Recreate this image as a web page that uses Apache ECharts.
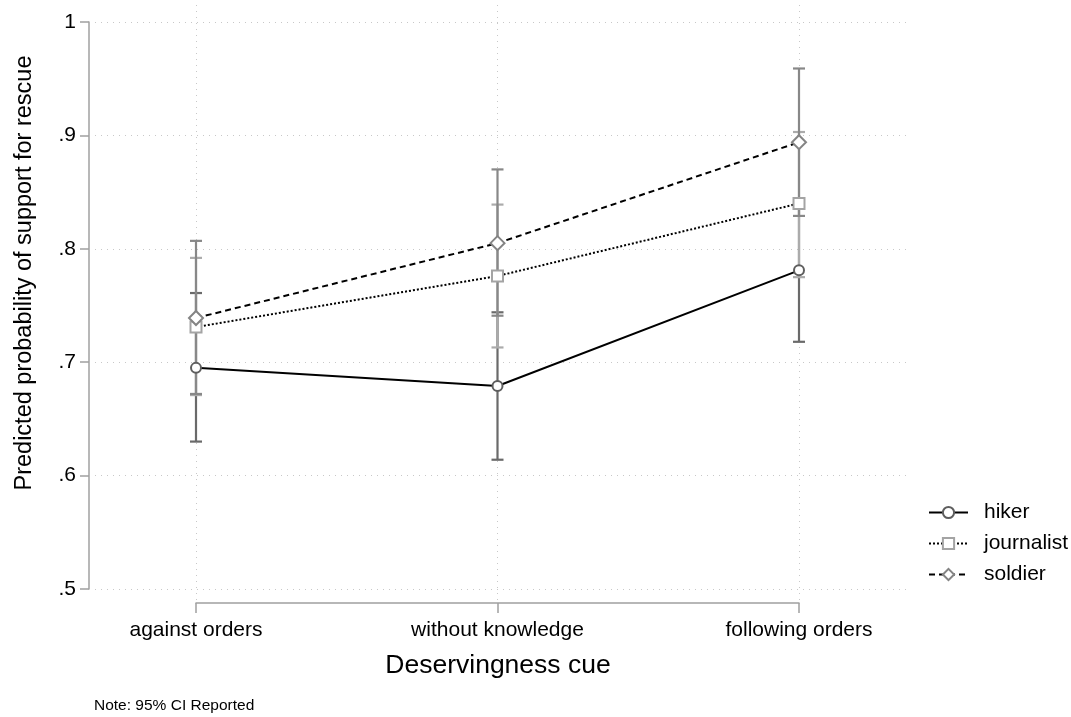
<!DOCTYPE html>
<html>
<head>
<meta charset="utf-8">
<script src="https://cdn.jsdelivr.net/npm/echarts@6/dist/echarts.min.js"></script>
<style>
  html, body { margin: 0; padding: 0; background: #fff; }
  #chart { width: 1071px; height: 717px; }
</style>
</head>
<body>
<div id="chart"></div>
<script>
// data
var categories = ['against orders', 'without knowledge', 'following orders']

var hiker = [0.695, 0.679, 0.781]
var hikerLo = [0.630, 0.614, 0.718]
var hikerHi = [0.761, 0.744, 0.844]

var journalist = [0.731, 0.776, 0.840]
var journalistLo = [0.671, 0.713, 0.775]
var journalistHi = [0.792, 0.839, 0.903]

var soldier = [0.739, 0.805, 0.894]
var soldierLo = [0.672, 0.741, 0.829]
var soldierHi = [0.807, 0.870, 0.959]

var font = 'Liberation Sans, Arial, Helvetica, sans-serif'

function pts(vals) {
  return vals.map(function (v, i) { return [i, v] })
}
function ciData(lo, hi) {
  return lo.map(function (v, i) { return [i, v, hi[i]] })
}

// error bar with caps
function errBar(color) {
  return function (params, api) {
    var x = api.value(0)
    var p1 = api.coord([x, api.value(1)])
    var p2 = api.coord([x, api.value(2)])
    var w = 6
    var st = { stroke: color, lineWidth: 2.2 }
    return {
      type: 'group',
      children: [
        { type: 'line', shape: { x1: p1[0], y1: p1[1], x2: p2[0], y2: p2[1] }, style: st },
        { type: 'line', shape: { x1: p1[0] - w, y1: p1[1], x2: p1[0] + w, y2: p1[1] }, style: st },
        { type: 'line', shape: { x1: p2[0] - w, y1: p2[1], x2: p2[0] + w, y2: p2[1] }, style: st },
      ],
    }
  }
}

var gridLine = { show: true, lineStyle: { color: '#c8c8c8', type: [1, 5], width: 1 } }

var chart = echarts.init(document.getElementById('chart'))
var option = {
  backgroundColor: '#fff',
  animation: false,
  textStyle: { fontFamily: font },
  grid: [
    // data grid
    { left: 196, top: 22, width: 603, height: 567 },
    // horizontal grid lines
    { left: 95, top: 22, width: 812, height: 567 },
    // vertical grid lines
    { left: 196, top: 5, width: 603, height: 595 },
  ],
  xAxis: [
    {
      gridIndex: 0, type: 'value', min: 0, max: 2, interval: 1, offset: 14,
      axisLine: { show: true, onZero: false, lineStyle: { color: '#a0a0a0', width: 1.5 } },
      axisTick: { show: true, length: 10, lineStyle: { color: '#a0a0a0', width: 1.5 } },
      axisLabel: {
        margin: 17, fontSize: 21, color: '#000', fontFamily: font,
        formatter: function (v) { return categories[v] },
      },
      splitLine: { show: false },
    },
    { gridIndex: 1, type: 'value', show: false, min: 0, max: 1 },
    {
      gridIndex: 2, type: 'value', min: 0, max: 2, interval: 1,
      axisLine: { show: false }, axisTick: { show: false }, axisLabel: { show: false },
      splitLine: gridLine,
    },
  ],
  yAxis: [
    {
      gridIndex: 0, type: 'value', min: 0.5, max: 1, interval: 0.1, offset: 107,
      axisLine: { show: true, onZero: false, lineStyle: { color: '#a0a0a0', width: 1.5 } },
      axisTick: { show: true, length: 9, lineStyle: { color: '#a0a0a0', width: 1.5 } },
      axisLabel: {
        margin: 13, fontSize: 21, color: '#000', fontFamily: font,
        formatter: function (v) {
          var r = Math.round(v * 10) / 10
          return r === 1 ? '1' : String(r).replace(/^0/, '')
        },
      },
      splitLine: { show: false },
    },
    {
      gridIndex: 1, type: 'value', min: 0.5, max: 1, interval: 0.1,
      axisLine: { show: false }, axisTick: { show: false }, axisLabel: { show: false },
      splitLine: gridLine,
    },
    { gridIndex: 2, type: 'value', show: false, min: 0, max: 1 },
  ],
  legend: {
    orient: 'vertical',
    left: 928,
    top: 502,
    padding: 0,
    itemWidth: 39,
    itemHeight: 14,
    itemGap: 10,
    textStyle: { fontSize: 21, color: '#000', fontFamily: font, padding: [0, 0, 0, 11] },
    data: ['hiker', 'journalist', 'soldier'],
  },
  graphic: [
    {
      type: 'text', x: 498, y: 666,
      style: {
        text: 'Deservingness cue', fill: '#000', font: '26.5px ' + font,
        align: 'center', verticalAlign: 'middle',
      },
    },
    {
      type: 'text', x: 13, y: 273, rotation: Math.PI / 2,
      style: {
        text: 'Predicted probability of support for rescue', fill: '#000',
        font: '23.5px ' + font, align: 'center', verticalAlign: 'top',
      },
    },
    {
      type: 'text', x: 94, y: 706,
      style: { text: 'Note: 95% CI Reported', fill: '#000', font: '15.5px ' + font, verticalAlign: 'middle' },
    },
  ],
  series: [
    {
      type: 'custom', name: 'hikerCI', xAxisIndex: 0, yAxisIndex: 0, z: 2,
      renderItem: errBar('#6a6a6a'), data: ciData(hikerLo, hikerHi),
    },
    {
      type: 'custom', name: 'journalistCI', xAxisIndex: 0, yAxisIndex: 0, z: 2,
      renderItem: errBar('#ababab'), data: ciData(journalistLo, journalistHi),
    },
    {
      type: 'custom', name: 'soldierCI', xAxisIndex: 0, yAxisIndex: 0, z: 2,
      renderItem: errBar('#888888'), data: ciData(soldierLo, soldierHi),
    },
    {
      name: 'hiker', type: 'line', xAxisIndex: 0, yAxisIndex: 0, z: 5,
      data: pts(hiker),
      symbol: 'circle', symbolSize: 10, showAllSymbol: true,
      lineStyle: { color: '#000', width: 2, type: 'solid' },
      itemStyle: { color: '#fff', borderColor: '#5e5e5e', borderWidth: 2 },
    },
    {
      name: 'journalist', type: 'line', xAxisIndex: 0, yAxisIndex: 0, z: 5,
      data: pts(journalist),
      symbol: 'rect', symbolSize: 11, showAllSymbol: true,
      lineStyle: { color: '#000', width: 2, type: [2, 2] },
      itemStyle: { color: '#fff', borderColor: '#a4a4a4', borderWidth: 2 },
    },
    {
      name: 'soldier', type: 'line', xAxisIndex: 0, yAxisIndex: 0, z: 5,
      data: pts(soldier),
      symbol: 'diamond', symbolSize: 14, showAllSymbol: true,
      lineStyle: { color: '#000', width: 2, type: [6, 4] },
      itemStyle: { color: '#fff', borderColor: '#848484', borderWidth: 2 },
    },
  ],
}
chart.setOption(option)
</script>
</body>
</html>
